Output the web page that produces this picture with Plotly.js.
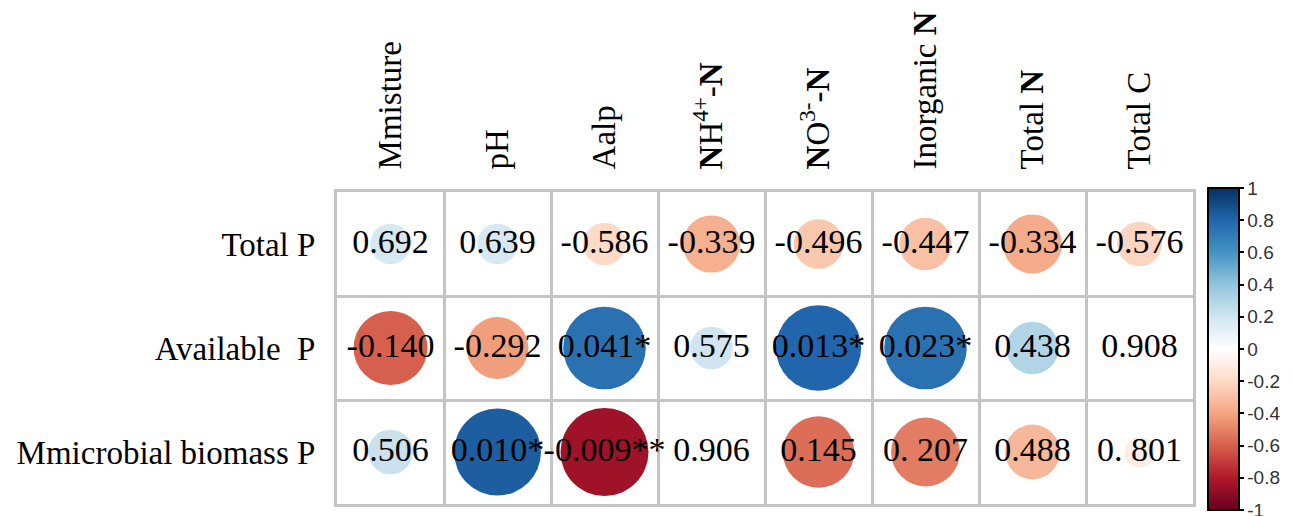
<!DOCTYPE html>
<html>
<head>
<meta charset="utf-8">
<script src="https://cdn.plot.ly/plotly-3.0.1.min.js"></script>
<style>html,body{margin:0;padding:0;background:#fff;}#chart{width:1293px;height:516px;}</style>
</head>
<body>
<div id="chart"></div>
<script>
// ---- data ----
const colLabels = ["Mmisture", "pH", "Aalp", "<b>N</b>H<sup>4+</sup>-<b>N</b>", "<b>N</b>O<sup>3-</sup>-<b>N</b>", "Inorganic <b>N</b>", "Total <b>N</b>", "Total C"];
const rowLabels = ["Total P", "Available  P", "Mmicrobial biomass P"];
// correlation coefficients (colour and circle size)
const rTotalP = [0.18, 0.18, -0.20, -0.36, -0.27, -0.30, -0.38, -0.22];
const rAvailableP = [-0.60, -0.42, 0.75, 0.20, 0.80, 0.75, 0.30, 0.03];
const rBiomassP = [0.22, 0.83, -0.85, 0.03, -0.56, -0.52, -0.33, -0.10];
// printed p-values
const pTotalP = ["0.692", "0.639", "-0.586", "-0.339", "-0.496", "-0.447", "-0.334", "-0.576"];
const pAvailableP = ["-0.140", "-0.292", "0.041*", "0.575", "0.013*", "0.023*", "0.438", "0.908"];
const pBiomassP = ["0.506", "0.010*", "-0.009**", "0.906", "0.145", "0. 207", "0.488", "0. 801"];
const colorbarTicks = [1, 0.8, 0.6, 0.4, 0.2, 0, -0.2, -0.4, -0.6, -0.8, -1];
const colorbarTickText = ["1", "0.8", "0.6", "0.4", "0.2", "0", "-0.2", "-0.4", "-0.6", "-0.8", "-1"];

// ---- layout geometry ----
const W = 1293, H = 516;
const margin = {l: 337, r: 100, t: 192, b: 6};
const cellW = (W - margin.l - margin.r) / colLabels.length;
const cellH = (H - margin.t - margin.b) / rowLabels.length;
const cellPx = Math.min(cellW, cellH);

const rRows = [rTotalP, rAvailableP, rBiomassP];
const pRows = [pTotalP, pAvailableP, pBiomassP];

const xs = [], ys = [], cs = [], ss = [], ts = [];
rRows.forEach((row, j) => {
  row.forEach((r, i) => {
    xs.push(i); ys.push(j); cs.push(r);
    ss.push(0.9 * Math.sqrt(Math.abs(r)) * cellPx);
    ts.push(pRows[j][i]);
  });
});

const rdbu = [
  [0.0, "#67001F"], [0.1, "#B2182B"], [0.2, "#D6604D"], [0.3, "#F4A582"], [0.4, "#FDDBC7"],
  [0.5, "#FFFFFF"], [0.6, "#D1E5F0"], [0.7, "#92C5DE"], [0.8, "#4393C3"], [0.9, "#2166AC"], [1.0, "#053061"]
];

const SERIF = "'Liberation Serif'";
const SANS = "'Liberation Sans'";

const circles = {
  type: "scatter", mode: "markers", x: xs, y: ys, hoverinfo: "skip",
  marker: {
    size: ss, sizemode: "diameter", color: cs, colorscale: rdbu, cmin: -1, cmax: 1,
    line: {width: 0}, opacity: 1,
    showscale: true,
    colorbar: {
      x: (1208 - margin.l) / (W - margin.l - margin.r), xanchor: "left",
      y: (H - margin.b - 352) / (H - margin.t - margin.b), yanchor: "middle",
      len: 322, lenmode: "pixels", thickness: 31, thicknessmode: "pixels",
      xpad: 0, ypad: 0, outlinewidth: 2, outlinecolor: "#000",
      tickmode: "array", tickvals: colorbarTicks, ticktext: colorbarTickText,
      ticks: "outside", ticklen: 4, tickwidth: 2, tickcolor: "#000",
      ticklabeloverflow: "allow",
      tickfont: {family: SANS, size: 19, color: "#333"}
    }
  }
};

const labels = {
  type: "scatter", mode: "text", x: xs, y: ys, text: ts, hoverinfo: "skip",
  textposition: "middle center",
  textfont: {family: SERIF, size: 34, color: "#000"}
};

const layout = {
  width: W, height: H, margin: margin,
  font: {family: SERIF},
  paper_bgcolor: "#fff", plot_bgcolor: "#fff", showlegend: false,
  xaxis: {
    range: [-0.5, colLabels.length - 0.5], side: "top",
    tickmode: "array", tickvals: colLabels.map((_, i) => i), ticktext: colLabels,
    tickangle: -90, ticks: "", ticklabelstandoff: 13,
    tickfont: {family: SERIF, size: 33, color: "#000"},
    showgrid: false, zeroline: false,
    showline: true, mirror: true, linecolor: "#c4c4c4", linewidth: 3,
    minor: {tick0: -0.5, dtick: 1, showgrid: true, gridcolor: "#c4c4c4", gridwidth: 3, ticks: ""}
  },
  yaxis: {
    range: [rowLabels.length - 0.5, -0.5],
    tickmode: "array", tickvals: rowLabels.map((_, i) => i), ticktext: rowLabels,
    ticks: "", ticklabelstandoff: 12,
    tickfont: {family: SERIF, size: 33, color: "#000"},
    showgrid: false, zeroline: false,
    showline: true, mirror: true, linecolor: "#c4c4c4", linewidth: 3,
    minor: {tick0: -0.5, dtick: 1, showgrid: true, gridcolor: "#c4c4c4", gridwidth: 3, ticks: ""}
  }
};

Plotly.newPlot("chart", [circles, labels], layout, {displayModeBar: false, staticPlot: true});
</script>
</body>
</html>
